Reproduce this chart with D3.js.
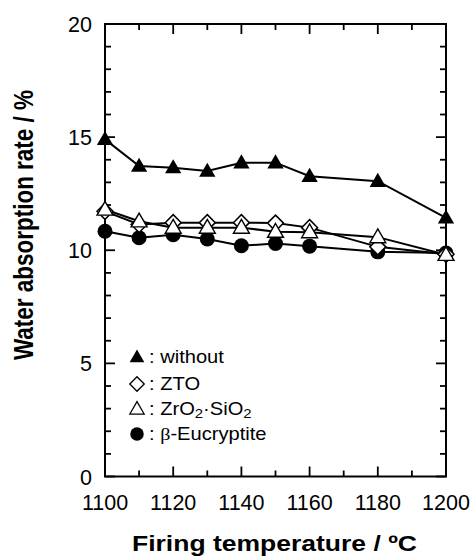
<!DOCTYPE html>
<html><head><meta charset="utf-8">
<script src="https://cdn.jsdelivr.net/npm/d3@7"></script>
<style>body{margin:0;background:#fff}svg{display:block}</style>
</head><body>
<svg id="c" width="473" height="557"></svg>
<script>
const temps = [1100,1110,1120,1130,1140,1150,1160,1180,1200];
const without = [14.9,13.72,13.65,13.5,13.87,13.87,13.27,13.05,11.43];
const zto = [11.72,11.14,11.22,11.22,11.22,11.2,11.0,10.15,9.82];
const zrsi = [11.8,11.28,11.0,11.0,11.0,10.82,10.8,10.58,9.8];
const eucry = [10.84,10.55,10.69,10.5,10.2,10.3,10.18,9.93,9.88];
const xTicks = [1100,1120,1140,1160,1180,1200];
const yTicks = [0,5,10,15,20];

const svg = d3.select("#c");
const L=105,R=446,T=24,B=476.5;
const x = d3.scaleLinear().domain([1100,1200]).range([L,R]);
const y = d3.scaleLinear().domain([0,20]).range([B,T]);
const font = "'Liberation Sans', Arial, Helvetica, sans-serif";

svg.append("rect").attr("x",L).attr("y",T).attr("width",R-L).attr("height",B-T)
  .attr("fill","none").attr("stroke","#000").attr("stroke-width",2);

const g = svg.append("g");
d3.range(0,21,1).forEach(v=>{
  const len = v%5===0?10:6;
  g.append("line").attr("x1",L).attr("x2",L+len).attr("y1",y(v)).attr("y2",y(v)).attr("stroke","#000").attr("stroke-width",1.8);
  g.append("line").attr("x1",R).attr("x2",R-len).attr("y1",y(v)).attr("y2",y(v)).attr("stroke","#000").attr("stroke-width",1.8);
});
d3.range(1100,1201,10).forEach(v=>{
  const len = v%20===0?10:6;
  g.append("line").attr("x1",x(v)).attr("x2",x(v)).attr("y1",B).attr("y2",B-len).attr("stroke","#000").attr("stroke-width",1.8);
  g.append("line").attr("x1",x(v)).attr("x2",x(v)).attr("y1",T).attr("y2",T+len).attr("stroke","#000").attr("stroke-width",1.8);
});
yTicks.forEach(v=>{
  g.append("text").attr("x",L-13).attr("y",y(v)+8).attr("text-anchor","end")
   .attr("font-family",font).attr("font-size",21.5).text(v);
});
xTicks.forEach(v=>{
  g.append("text").attr("x",x(v)).attr("y",510).attr("text-anchor","middle")
   .attr("font-family",font).attr("font-size",21.5).text(v);
});
svg.append("text").attr("x",274.5).attr("y",551).attr("text-anchor","middle")
  .attr("font-family",font).attr("font-size",22).attr("font-weight","bold")
  .attr("textLength",285).attr("lengthAdjust","spacingAndGlyphs").text("Firing temperature / \u00BAC");
svg.append("text").attr("transform","translate(33,225) scale(1.2,1) rotate(-90)").attr("text-anchor","middle")
  .attr("font-family",font).attr("font-size",23).attr("font-weight","bold")
  .attr("textLength",270).attr("lengthAdjust","spacingAndGlyphs").text("Water absorption rate / %");

const triUp = d3.symbol().type(d3.symbolTriangle).size(115)();
const diam = "M0,-8L8,0L0,8L-8,0Z";
const triOpen = d3.symbol().type(d3.symbolTriangle).size(110)();
const series = [
  {v:eucry, mark:"circle"},
  {v:zto, mark:"diamond"},
  {v:zrsi, mark:"open"},
  {v:without, mark:"tri"}
];
const line = d3.line().x((d,i)=>x(temps[i])).y(d=>y(d));
function drawMark(sel,type){
  if(type==="circle") sel.append("circle").attr("r",7.5).attr("fill","#000");
  else if(type==="diamond") sel.append("path").attr("d",diam).attr("fill","#fff").attr("stroke","#000").attr("stroke-width",1.5);
  else if(type==="open") sel.append("path").attr("d",triOpen).attr("transform","translate(0,1)").attr("fill","#fff").attr("stroke","#000").attr("stroke-width",1.4);
  else sel.append("path").attr("d",triUp).attr("transform","translate(0,1)").attr("fill","#000");
}
series.forEach(s=>{
  svg.append("path").attr("d",line(s.v)).attr("fill","none").attr("stroke","#000").attr("stroke-width",2);
});
series.forEach(s=>{
  s.v.forEach((d,i)=>{
    const gm = svg.append("g").attr("transform",`translate(${x(temps[i])},${y(d)})`);
    drawMark(gm,s.mark);
  });
});

// legend
const legMarks = ["tri","diamond","open","circle"];
const ly = [357,384,409,434];
legMarks.forEach((m,i)=>{
  const gm = svg.append("g").attr("transform",`translate(137,${ly[i]}) scale(0.9)`);
  drawMark(gm,m);
});
function legText(i){return svg.append("text").attr("x",149).attr("y",ly[i]+6.5).attr("font-family",font).attr("font-size",17.5)
  .attr("transform",`translate(149,0) scale(1.15,1) translate(-149,0)`);}
legText(0).text(": without");
legText(1).text(": ZTO");
const t2 = legText(2);
t2.append("tspan").text(": ZrO");
t2.append("tspan").attr("font-size",13).attr("dy",3).text("2");
t2.append("tspan").attr("dy",-3).text("\u00B7SiO");
t2.append("tspan").attr("font-size",13).attr("dy",3).text("2");
const t3 = legText(3);
t3.append("tspan").text(": ");
t3.append("tspan").attr("font-family","'Liberation Serif', 'Times New Roman', serif").text("\u03B2");
t3.append("tspan").text("-Eucryptite");
</script>
</body></html>
